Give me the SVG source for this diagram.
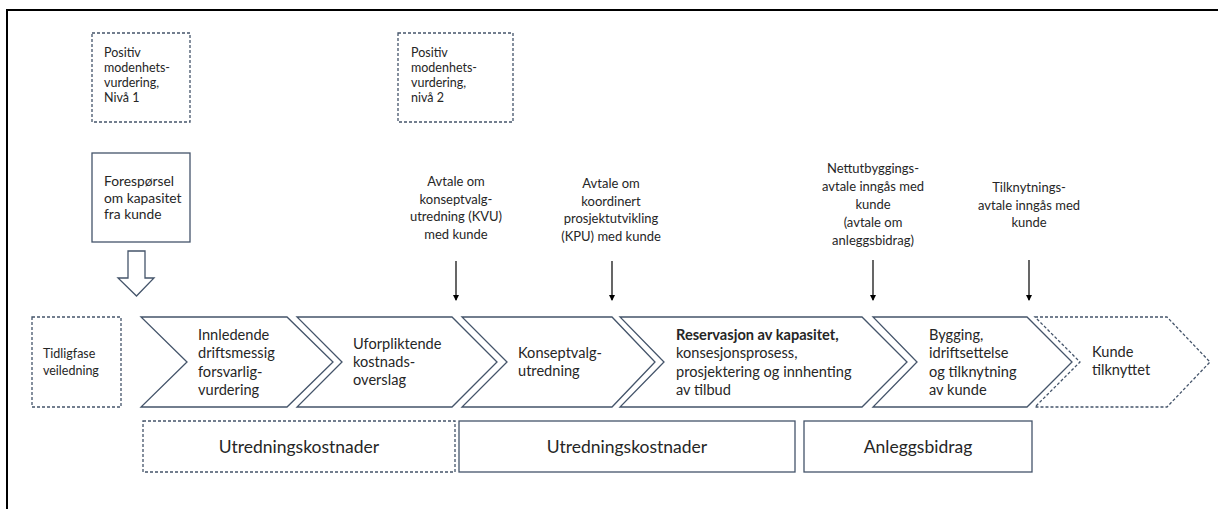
<svg xmlns="http://www.w3.org/2000/svg" width="1218" height="509" viewBox="0 0 1218 509">
<defs>
<style>
.t{font-family:Lato,"Liberation Sans",sans-serif;fill:#262626}
.s14{font-size:14.6px}
.s13{font-size:13px}
.s13b{font-size:13.8px}
.s12{font-size:12.5px}
.s18{font-size:17.5px}
.b{font-weight:bold}
.box{fill:#fff;stroke:#44546a;stroke-width:1.3}
.dash{fill:#fff;stroke:#44546a;stroke-width:1.3;stroke-dasharray:3 2}
.chev{fill:#fff;stroke:#44546a;stroke-width:1.3;stroke-linejoin:miter}
.arr{stroke:#000;stroke-width:1.2;fill:none}
.mid{text-anchor:middle}
</style>
<marker id="ah" markerWidth="6" markerHeight="6" refX="5" refY="3" orient="auto" markerUnits="userSpaceOnUse">
<path d="M0,0 L6,3 L0,6 z" fill="#000"/>
</marker>
</defs>
<rect x="0" y="0" width="1218" height="509" fill="#fff"/>
<rect id="frame" x="7" y="10" width="1230" height="520" fill="none" stroke="#000" stroke-width="2"/>

<g id="mod1">
<rect class="dash" x="92" y="33" width="98" height="89"/>
<text class="t s12" x="104"><tspan x="104" y="57">Positiv</tspan><tspan x="104" y="72">modenhets-</tspan><tspan x="104" y="87">vurdering,</tspan><tspan x="104" y="102">Nivå 1</tspan></text>
</g>
<g id="mod2">
<rect class="dash" x="398" y="33" width="115" height="89"/>
<text class="t s12" x="411"><tspan x="411" y="57">Positiv</tspan><tspan x="411" y="72">modenhets-</tspan><tspan x="411" y="87">vurdering,</tspan><tspan x="411" y="102">nivå 2</tspan></text>
</g>
<g id="foresporsel">
<rect class="box" x="92" y="153" width="98" height="89"/>
<text class="t s13b" x="104"><tspan x="104" y="186">Forespørsel</tspan><tspan x="104" y="202.5">om kapasitet</tspan><tspan x="104" y="219">fra kunde</tspan></text>
</g>

<g id="lbl-kvu">
<text class="t s13 mid"><tspan x="456" y="186">Avtale om</tspan><tspan x="456" y="203.5">konseptvalg-</tspan><tspan x="456" y="221">utredning (KVU)</tspan><tspan x="456" y="238.5">med kunde</tspan></text>
</g>
<g id="lbl-kpu">
<text class="t s13 mid"><tspan x="611" y="188">Avtale om</tspan><tspan x="611" y="205.5">koordinert</tspan><tspan x="611" y="223">prosjektutvikling</tspan><tspan x="611" y="240.5">(KPU) med kunde</tspan></text>
</g>
<g id="lbl-nett">
<text class="t s13 mid"><tspan x="873" y="173">Nettutbyggings-</tspan><tspan x="873" y="191">avtale inngås med</tspan><tspan x="873" y="209">kunde</tspan><tspan x="873" y="227">(avtale om</tspan><tspan x="873" y="245">anleggsbidrag)</tspan></text>
</g>
<g id="lbl-tilk">
<text class="t s13 mid"><tspan x="1029" y="192">Tilknytnings-</tspan><tspan x="1029" y="209.5">avtale inngås med</tspan><tspan x="1029" y="227">kunde</tspan></text>
</g>

<g id="tidligfase">
<rect class="dash" x="32" y="317" width="89" height="90"/>
<text class="t s12"><tspan x="43" y="357.5">Tidligfase</tspan><tspan x="43" y="374.5">veiledning</tspan></text>
</g>

<g id="ch1">
<polygon class="chev" points="141,317 287,317 333,362 287,407 141,407 187,362"/>
<text class="t s14"><tspan x="198" y="340">Innledende</tspan><tspan x="198" y="358">driftsmessig</tspan><tspan x="198" y="377">forsvarlig-</tspan><tspan x="198" y="395">vurdering</tspan></text>
</g>
<g id="ch2">
<polygon class="chev" points="297,317 452,317 497,362 452,407 297,407 342,362"/>
<text class="t s14"><tspan x="353" y="349">Uforpliktende</tspan><tspan x="353" y="367">kostnads-</tspan><tspan x="353" y="385">overslag</tspan></text>
</g>
<g id="ch3">
<polygon class="chev" points="462,317 612,317 655,362 612,407 462,407 507,362"/>
<text class="t s14"><tspan x="518" y="358">Konseptvalg-</tspan><tspan x="518" y="376">utredning</tspan></text>
</g>
<g id="ch4">
<polygon class="chev" points="620,317 862,317 907,362 862,407 620,407 664,362"/>
<text class="t s14"><tspan x="676" y="340" class="b">Reservasjon av kapasitet,</tspan><tspan x="676" y="358">konsesjonsprosess,</tspan><tspan x="676" y="377">prosjektering og innhenting</tspan><tspan x="676" y="395">av tilbud</tspan></text>
</g>
<g id="ch5">
<polygon class="chev" points="873,317 1027,317 1072,362 1027,407 873,407 917,362"/>
<text class="t s14"><tspan x="929" y="340">Bygging,</tspan><tspan x="929" y="358">idriftsettelse</tspan><tspan x="929" y="377">og tilknytning</tspan><tspan x="929" y="395">av kunde</tspan></text>
</g>
<g id="ch6">
<polygon class="chev" stroke-dasharray="3 2" points="1035,317 1167,317 1210,362 1167,407 1035,407 1080,362"/>
<text class="t s14"><tspan x="1092" y="357">Kunde</tspan><tspan x="1092" y="375">tilknyttet</tspan></text>
</g>

<g id="cost1">
<rect class="dash" x="143" y="421" width="312" height="51"/>
<text class="t s18 mid" x="299" y="453">Utredningskostnader</text>
</g>
<g id="cost2">
<rect class="box" x="459" y="421" width="336" height="51"/>
<text class="t s18 mid" x="627" y="453">Utredningskostnader</text>
</g>
<g id="cost3">
<rect class="box" x="804" y="421" width="228" height="51"/>
<text class="t s18 mid" x="918" y="453">Anleggsbidrag</text>
</g>

<g id="connectors">
<polygon points="128,251 145,251 145,278 154,278 136.5,296 118,278 128,278" fill="#fff" stroke="#44546a" stroke-width="1.3"/>
<line class="arr" x1="456" y1="261" x2="456" y2="300" marker-end="url(#ah)"/>
<line class="arr" x1="612" y1="261" x2="612" y2="300" marker-end="url(#ah)"/>
<line class="arr" x1="873" y1="260" x2="873" y2="300" marker-end="url(#ah)"/>
<line class="arr" x1="1029" y1="260" x2="1029" y2="300" marker-end="url(#ah)"/>
</g>
</svg>
